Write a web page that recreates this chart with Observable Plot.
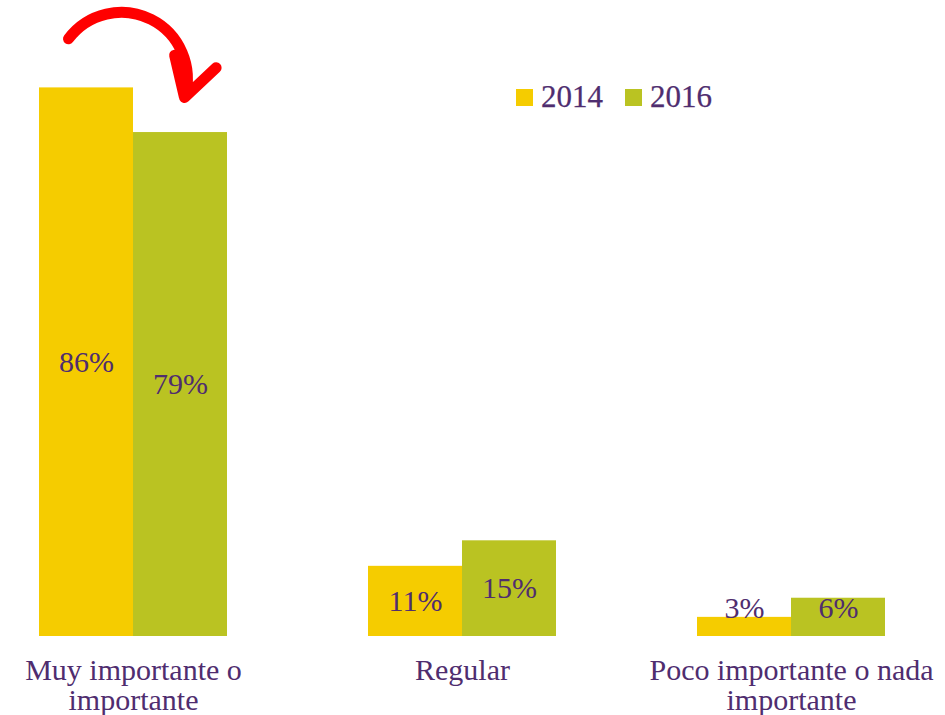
<!DOCTYPE html>
<html>
<head>
<meta charset="utf-8">
<script src="https://cdn.jsdelivr.net/npm/d3@7"></script>
<script src="https://cdn.jsdelivr.net/npm/@observablehq/plot@0.6"></script>
<style>
  html, body { margin: 0; padding: 0; background: #fff; }
  #wrap { position: relative; width: 945px; height: 715px; }
  #legend { position: absolute; left: 516px; top: 79px; display: flex; align-items: center;
            font-family: "Liberation Serif", serif; font-size: 31px; color: #4F2D6F;
            -webkit-text-stroke: 0.25px #4F2D6F; }
  #legend .item { display: flex; align-items: center; margin-right: 22px; }
  #legend .sw { width: 17px; height: 17px; margin-right: 8px; }
</style>
</head>
<body>
<div id="wrap"></div>
<script>
const categories = ["Muy importante o importante", "Regular", "Poco importante o nada importante"];
const tickLabels = ["Muy importante o\nimportante", "Regular", "Poco importante o nada\nimportante"];
const years = ["2014", "2016"];
const values2014 = [86, 11, 3];
const values2016 = [79, 15, 6];
const colors = ["#F5CC00", "#BAC322"];
const textColor = "#4F2D6F";

const data = [];
categories.forEach((c, i) => {
  data.push({cat: c, year: years[0], value: values2014[i]});
  data.push({cat: c, year: years[1], value: values2016[i]});
});
const arrowData = [{cat: categories[0], from: years[0], to: years[1],
                    y1: values2014[0] + 7.7, y2: values2016[0] + 5.5}];
const labelOf = new Map(categories.map((c, i) => [c, tickLabels[i]]));

const chart = Plot.plot({
  width: 945,
  height: 715,
  marginLeft: 0,
  marginRight: 22,
  marginTop: 0,
  marginBottom: 79,
  fx: {domain: categories, paddingInner: 0.4294, paddingOuter: 0.1153, label: null},
  x: {domain: years, padding: 0, axis: null},
  y: {domain: [0, 99.7], axis: null},
  color: {domain: years, range: colors},
  style: {fontFamily: "Liberation Serif, serif", fontSize: "30px", color: textColor, background: "#fff"},
  marks: [
    Plot.barY(data, {fx: "cat", x: "year", y: "value", fill: "year"}),
    Plot.text(data, {fx: "cat", x: "year", y: d => Math.max(d.value / 2, 4.4),
      text: d => d.value + "%", fill: textColor, fontSize: 30}),
    Plot.arrow(arrowData, {fx: "cat", x1: "from", x2: "to", y1: "y1", y2: "y2",
      bend: 80, stroke: "#FF0000", strokeWidth: 11, headLength: 11,
      render: (index, scales, values, dims, context, next) => {
        const v = {...values,
          x1: Array.from(values.x1, x => x - 18),
          x2: Array.from(values.x2, x => x + 4)};
        return next(index, scales, v, dims, context);
      }}),
    Plot.axisFx({anchor: "bottom", tickSize: 0, tickPadding: 22, label: null,
      tickFormat: d => labelOf.get(d), fontSize: 30, fill: textColor, lineHeight: 1.0})
  ]
});

const wrap = document.getElementById("wrap");
wrap.appendChild(chart);
const legend = document.createElement("div");
legend.id = "legend";
years.forEach((y, i) => {
  const item = document.createElement("div");
  item.className = "item";
  const sw = document.createElement("div");
  sw.className = "sw";
  sw.style.background = colors[i];
  const t = document.createElement("span");
  t.textContent = y;
  item.appendChild(sw);
  item.appendChild(t);
  legend.appendChild(item);
});
wrap.appendChild(legend);
</script>
</body>
</html>
